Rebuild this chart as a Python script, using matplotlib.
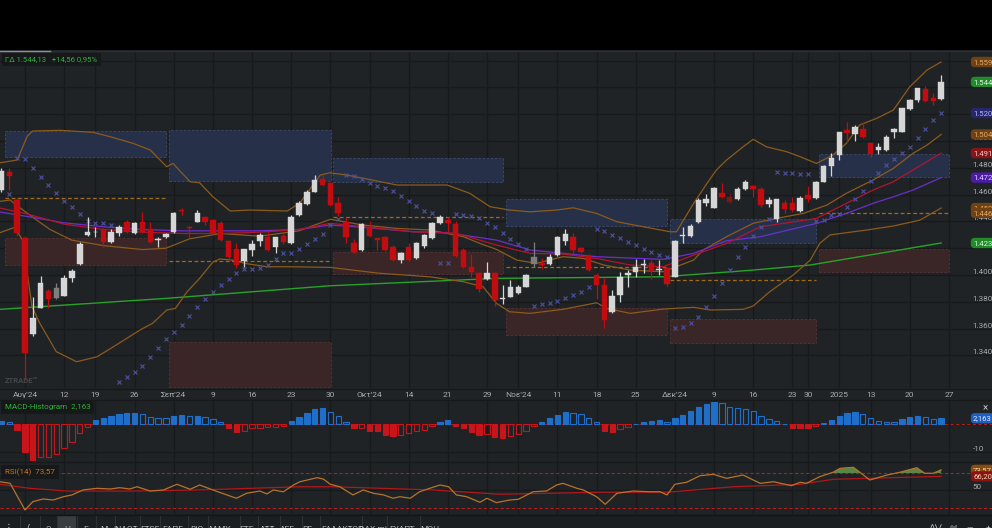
import numpy as np
import matplotlib
matplotlib.use('Agg')
import matplotlib.pyplot as plt
from matplotlib.patches import Rectangle
from matplotlib.ticker import FuncFormatter
from matplotlib.lines import Line2D

plt.rcParams['font.family'] = ['Roboto', 'DejaVu Sans']

# ---- data: trading-day index, 0 = 5 Aug 2024, -3 = 31 Jul, 117 = 24 Jan 2025
first_idx = -3
opens = [1463.4, 1477.1, 1456.0, 1427.6, 1356.0, 1375.6, 1388.1, 1382.6, 1384.3, 1398.0,
         1408.0, 1429.9, 1431.8, 1433.6, 1424.9, 1431.1, 1439.8, 1431.1, 1439.8, 1434.1,
         1426.0, 1428.6, 1432.3, 1448.9, 1436.0, 1439.8, 1443.5, 1441.0, 1439.0, 1425.6,
         1419.2, 1410.7, 1418.7, 1425.6, 1428.6, 1420.7, 1429.3, 1424.1, 1444.8, 1453.0,
         1462.2, 1471.4, 1468.4, 1454.0, 1439.3, 1424.1, 1418.7, 1436.0, 1427.4, 1428.1,
         1420.7, 1411.2, 1421.1, 1412.5, 1421.6, 1427.4, 1438.6, 1441.0, 1438.1, 1418.7,
         1406.2, 1401.3, 1397.0, 1401.3, 1382.1, 1383.8, 1386.8, 1391.3, 1408.2, 1408.7,
         1408.2, 1414.9, 1425.6, 1428.1, 1419.9, 1414.2, 1400.0, 1392.5, 1372.2, 1385.1,
         1400.0, 1402.5, 1407.7, 1408.7, 1404.0, 1405.0, 1398.7, 1429.5, 1429.1, 1439.3,
         1454.0, 1450.2, 1461.4, 1458.0, 1456.5, 1464.2, 1466.4, 1464.0, 1453.0, 1441.6,
         1453.5, 1453.5, 1448.0, 1459.7, 1457.2, 1469.6, 1481.3, 1489.6, 1508.2, 1505.2,
         1509.0, 1498.3, 1493.3, 1493.3, 1506.9, 1506.9, 1523.9, 1530.6, 1538.8, 1532.0,
         1531.1]
highs = [1479.8, 1479.8, 1457.5, 1429.1, 1383.6, 1399.3, 1389.6, 1394.3, 1400.0, 1404.7,
         1424.6, 1443.3, 1435.8, 1435.1, 1434.3, 1437.3, 1441.0, 1439.6, 1447.2, 1439.6,
         1428.6, 1431.3, 1447.0, 1449.8, 1436.6, 1448.5, 1444.0, 1441.8, 1440.3, 1426.1,
         1424.1, 1419.8, 1426.1, 1431.1, 1433.1, 1428.7, 1431.6, 1444.8, 1455.2, 1463.4,
         1474.4, 1474.6, 1469.4, 1458.4, 1443.5, 1426.6, 1438.8, 1440.5, 1428.0, 1429.1,
         1422.4, 1417.2, 1423.7, 1424.6, 1430.6, 1439.6, 1444.8, 1443.5, 1440.5, 1419.9,
         1415.7, 1402.2, 1409.5, 1402.2, 1392.5, 1396.3, 1392.5, 1400.7, 1424.9, 1412.7,
         1415.4, 1429.1, 1434.1, 1431.1, 1421.1, 1415.7, 1401.7, 1397.5, 1388.8, 1402.5,
         1403.7, 1411.9, 1412.2, 1411.2, 1411.2, 1406.2, 1426.1, 1436.0, 1438.1, 1457.2,
         1460.4, 1465.7, 1468.4, 1461.0, 1465.9, 1470.9, 1467.2, 1465.4, 1458.4, 1457.1,
         1456.0, 1458.4, 1459.2, 1466.4, 1470.1, 1482.1, 1490.8, 1507.1, 1514.4, 1511.9,
         1514.4, 1498.9, 1498.3, 1504.5, 1509.5, 1525.0, 1531.3, 1539.9, 1541.0, 1535.6,
         1549.3]
lows = [1461.9, 1463.4, 1429.0, 1321.6, 1354.5, 1375.4, 1375.1, 1382.1, 1384.0, 1395.0,
        1407.5, 1429.1, 1428.4, 1421.1, 1423.9, 1429.3, 1431.3, 1430.6, 1431.3, 1423.9,
        1420.6, 1427.6, 1431.7, 1444.8, 1427.6, 1439.6, 1437.3, 1430.6, 1425.4, 1411.2,
        1405.0, 1406.2, 1414.2, 1421.6, 1417.9, 1416.2, 1423.1, 1423.5, 1444.0, 1452.2,
        1461.6, 1466.4, 1451.5, 1444.0, 1424.1, 1416.2, 1417.9, 1428.4, 1418.7, 1417.9,
        1410.4, 1408.7, 1410.4, 1411.9, 1419.9, 1426.9, 1438.1, 1432.3, 1413.4, 1405.2,
        1398.3, 1387.5, 1396.3, 1377.1, 1378.4, 1383.6, 1385.8, 1391.0, 1405.7, 1404.5,
        1407.5, 1414.2, 1422.4, 1415.7, 1416.2, 1403.0, 1382.1, 1360.2, 1371.6, 1380.1,
        1390.8, 1398.7, 1401.3, 1397.0, 1400.0, 1391.8, 1398.5, 1424.0, 1428.4, 1438.8,
        1451.7, 1450.0, 1457.8, 1454.1, 1456.0, 1463.8, 1458.4, 1450.5, 1451.0, 1439.8,
        1446.0, 1447.2, 1446.8, 1454.7, 1456.7, 1469.4, 1473.9, 1485.8, 1499.5, 1500.0,
        1502.2, 1488.3, 1490.3, 1492.9, 1502.0, 1506.5, 1523.1, 1529.3, 1529.5, 1526.9,
        1530.6]
closes = [1477.8, 1473.9, 1431.3, 1341.8, 1367.9, 1393.8, 1382.1, 1390.5, 1398.0, 1403.0,
          1422.9, 1432.1, 1432.3, 1424.9, 1432.3, 1436.0, 1432.3, 1438.6, 1432.3, 1424.9,
          1426.4, 1430.6, 1446.0, 1447.8, 1435.1, 1446.5, 1439.8, 1431.1, 1426.1, 1413.2,
          1407.5, 1419.2, 1423.1, 1429.9, 1418.7, 1428.1, 1424.9, 1443.5, 1454.0, 1462.2,
          1470.9, 1467.2, 1452.2, 1446.5, 1428.1, 1417.4, 1438.1, 1429.1, 1426.1, 1418.7,
          1411.2, 1416.6, 1411.2, 1423.7, 1429.9, 1438.6, 1443.5, 1438.6, 1414.2, 1406.2,
          1402.5, 1389.3, 1401.3, 1381.3, 1383.1, 1390.8, 1390.8, 1399.8, 1413.2, 1407.5,
          1413.2, 1428.1, 1430.6, 1418.7, 1417.4, 1403.7, 1392.5, 1366.4, 1384.6, 1398.3,
          1401.3, 1406.2, 1408.2, 1403.2, 1404.6, 1393.3, 1425.6, 1429.9, 1436.8, 1456.0,
          1456.5, 1464.7, 1458.4, 1454.7, 1464.0, 1469.2, 1464.0, 1452.2, 1456.0, 1456.5,
          1449.0, 1448.5, 1457.7, 1456.5, 1469.6, 1481.3, 1487.1, 1506.5, 1505.7, 1510.7,
          1502.8, 1490.3, 1495.3, 1502.8, 1508.7, 1524.4, 1530.6, 1539.3, 1530.1, 1529.6,
          1544.13]
gray_candles = [4, 65]
dark_candles = [90]

# parabolic SAR, from index -2
sar_first = -2
sar = [1460.4, 1487.5, 1486.3, 1479.6, 1473.4, 1467.2, 1461.0, 1455.4, 1450.5, 1445.3,
       1440.3, 1438.6, 1438.6, 1437.3, 1320.4, 1324.1, 1327.8, 1332.3, 1339.0, 1345.7,
       1352.0, 1357.5, 1362.7, 1369.6, 1375.9, 1382.1, 1387.5, 1392.5, 1396.8, 1401.3,
       1404.5, 1404.5, 1405.0, 1407.5, 1411.7, 1416.2, 1416.2, 1419.2, 1423.1, 1426.6,
       1430.6, 1437.0, 1442.0, 1474.6, 1473.9, 1471.4, 1468.9, 1466.4, 1465.1, 1462.9,
       1459.2, 1455.4, 1451.7, 1448.0, 1446.0, 1408.7, 1409.2, 1445.5, 1444.8, 1444.0,
       1442.3, 1439.0, 1435.6, 1431.1, 1426.6, 1422.9, 1419.2, 1377.1, 1378.4, 1379.3,
       1380.6, 1382.6, 1385.1, 1387.5, 1391.3, 1434.1, 1433.1, 1429.9, 1427.4, 1424.9,
       1422.4, 1419.4, 1417.4, 1414.9, 1413.2, 1360.2, 1361.4, 1364.4, 1368.4, 1375.9,
       1384.3, 1394.3, 1403.7, 1413.2, 1420.7, 1429.1, 1436.0, 1441.5, 1477.1, 1476.3,
       1475.9, 1475.4, 1475.4, 1440.3, 1441.0, 1444.8, 1445.3, 1451.0, 1456.7, 1462.7,
       1470.4, 1475.9, 1482.1, 1486.6, 1490.8, 1495.7, 1502.0, 1509.0, 1515.7, 1520.9]

# Bollinger bands (sampled along the index axis)
bb_up_x = [-3.2, -1.0, 0.3, 1.0, 4.5, 8.7, 10.9, 13.8, 16.0, 18.1, 18.9, 21.1, 22.3, 24.0,
           26.2, 28.7, 33.5, 35.1, 37.7, 38.9, 41.1, 43.2, 47.5, 53.9, 56.8, 59.4, 61.9,
           64.5, 67.9, 70.0, 73.0, 75.6, 79.0, 82.4, 83.2, 85.4, 87.1, 88.3, 89.6, 91.7,
           93.0, 94.7, 97.3, 99.0, 101.1, 103.2, 104.9, 106.6, 108.8, 110.9, 113.0, 115.2, 117.0]
bb_up = [1483.8, 1485.8, 1503.7, 1507.5, 1508.0, 1506.5, 1503.2, 1498.3, 1493.3, 1480.8,
         1483.3, 1469.6, 1468.9, 1458.4, 1447.8, 1448.5, 1447.8, 1453.7, 1474.6, 1476.3,
         1474.6, 1472.2, 1467.2, 1467.2, 1461.0, 1451.0, 1448.5, 1447.2, 1448.5, 1450.2,
         1446.0, 1439.8, 1436.0, 1432.3, 1432.3, 1453.5, 1468.4, 1478.4, 1485.8, 1495.7,
         1501.3, 1495.7, 1492.0, 1488.3, 1483.3, 1489.6, 1498.3, 1512.0, 1517.0, 1523.1,
         1540.5, 1553.0, 1559.0]
bb_mid_x = [-3.2, -1.9, -0.6, 1.5, 3.2, 6.0, 10.0, 15.0, 18.0, 21.0, 25.0, 30.0, 35.0, 39.0,
            43.2, 47.5, 51.7, 56.0, 58.1, 60.2, 62.8, 65.3, 68.7, 71.3, 73.9, 77.3, 81.5,
            85.4, 86.6, 89.6, 93.0, 96.0, 99.4, 102.4, 104.9, 108.3, 110.9, 113.4, 115.2, 117.0]
bb_mid = [1455.0, 1456.0, 1450.0, 1441.0, 1434.0, 1426.0, 1422.0, 1419.0, 1420.0, 1427.0,
          1431.0, 1429.0, 1433.0, 1441.6, 1437.3, 1434.8, 1433.6, 1428.6, 1423.6, 1419.2,
          1411.2, 1408.7, 1413.7, 1412.4, 1407.5, 1403.7, 1402.5, 1411.2, 1418.7, 1428.6,
          1438.6, 1442.3, 1446.0, 1452.2, 1461.0, 1470.9, 1479.6, 1490.8, 1497.0, 1504.9]
bb_lo_x = [-3.2, -1.3, -0.3, 0.9, 1.9, 4.0, 6.6, 9.2, 11.3, 14.7, 16.3, 18.1, 19.2, 20.7,
           22.3, 24.0, 24.9, 26.6, 28.3, 30.9, 33.8, 39.0, 45.3, 51.7, 56.0, 58.5, 60.2,
           61.9, 64.5, 68.7, 73.0, 74.3, 77.3, 81.5, 85.4, 87.5, 91.7, 93.0, 95.1, 98.1,
           100.3, 101.5, 102.8, 104.9, 107.5, 110.9, 114.3, 117.0]
bb_lo = [1431.6, 1435.6, 1426.0, 1376.3, 1364.0, 1342.8, 1335.3, 1339.0, 1346.5, 1359.0,
         1364.0, 1373.9, 1375.1, 1387.5, 1397.5, 1409.7, 1412.0, 1411.0, 1408.5, 1406.2,
         1406.2, 1405.7, 1401.3, 1398.7, 1395.0, 1391.3, 1378.9, 1372.6, 1371.4, 1374.4,
         1379.3, 1375.1, 1371.4, 1374.6, 1375.9, 1373.9, 1374.4, 1376.9, 1387.5, 1400.0,
         1411.2, 1423.6, 1429.9, 1431.6, 1433.6, 1436.6, 1441.0, 1450.0]

# moving averages
ma_red_x = [-3.2, 0.0, 5.0, 10.0, 15.0, 20.0, 25.0, 30.0, 35.0, 39.0, 43.2, 49.6, 55.1,
            60.2, 64.5, 68.7, 73.0, 77.3, 81.5, 85.4, 89.6, 93.9, 101.1, 104.9, 108.3,
            110.9, 113.4, 117.0]
ma_red = [1450.0, 1446.0, 1438.0, 1434.0, 1432.0, 1431.0, 1431.0, 1432.0, 1434.0, 1438.6,
          1436.1, 1432.3, 1431.1, 1422.4, 1416.2, 1415.7, 1412.4, 1407.5, 1406.2, 1414.9,
          1423.6, 1436.0, 1442.3, 1453.5, 1463.4, 1469.6, 1478.4, 1491.0]
ma_pur_x = [-3.2, 0.0, 5.0, 10.0, 15.0, 20.0, 25.0, 30.0, 35.0, 39.0, 43.2, 49.6, 53.9,
            60.2, 64.5, 68.7, 73.0, 81.5, 85.4, 89.6, 93.9, 101.1, 104.9, 108.3, 110.9,
            113.4, 117.0]
ma_pur = [1447.0, 1444.0, 1439.0, 1436.0, 1434.0, 1433.0, 1433.0, 1433.0, 1434.0, 1437.3,
          1435.6, 1432.3, 1431.6, 1426.1, 1418.7, 1416.2, 1413.7, 1411.7, 1416.2, 1425.6,
          1428.6, 1438.6, 1446.0, 1453.5, 1458.4, 1463.4, 1472.7]
ma_grn_x = [-3.2, 18.1, 39.0, 60.2, 81.5, 92.6, 100.3, 117.0]
ma_grn = [1374.4, 1382.6, 1392.0, 1397.5, 1398.7, 1403.5, 1407.5, 1423.9]

# monthly zones (Aug .. Jan)
month_first = [-2, 19, 40, 62, 83, 102]
month_last = [18, 39, 61, 82, 101, 118]
zone_hi_top = [1507.5, 1508.2, 1487.1, 1456.7, 1441.8, 1490.1]
zone_hi_bot = [1487.8, 1470.1, 1469.6, 1436.8, 1424.1, 1473.4]
zone_lo_top = [1427.4, 1349.8, 1417.4, 1375.1, 1367.2, 1419.2]
zone_lo_bot = [1407.5, 1316.6, 1400.7, 1355.2, 1349.5, 1402.5]
pivot = [1457.2, 1410.4, 1443.5, 1405.7, 1396.0, 1446.4]

# MACD histogram, from index -3
macd = [1.2, 1.0, -2.0, -9.8, -12.7, -11.8, -11.5, -10.6, -8.6, -6.2,
        -3.2, -0.85, 1.5, 2.4, 3.1, 3.8, 4.0, 4.1, 3.6, 2.7,
        2.4, 2.3, 3.0, 3.3, 3.0, 3.1, 2.5, 1.8, 0.7, -1.2,
        -2.6, -2.4, -1.4, -1.3, -1.0, -0.9, -0.6, 1.2, 2.7, 3.9,
        5.4, 5.7, 4.4, 3.0, 0.7, -1.4, -1.3, -2.3, -2.4, -3.7,
        -4.2, -3.9, -3.2, -2.4, -1.9, -0.5, 0.8, 1.6, -0.5, -1.4,
        -2.6, -3.9, -3.6, -4.6, -4.9, -4.2, -3.6, -2.3, -0.6, 0.7,
        2.1, 3.3, 4.5, 4.0, 3.7, 2.4, 0.7, -2.3, -2.6, -1.6,
        -0.8, 0.2, 0.9, 1.2, 1.4, 0.7, 2.3, 3.5, 4.7, 6.2,
        7.1, 7.9, 7.5, 6.2, 6.0, 5.6, 4.8, 3.0, 1.9, 1.2,
        0.2, -1.2, -1.3, -1.35, -0.7, 0.5, 1.7, 3.1, 3.9, 4.3,
        3.6, 2.1, 1.2, 1.0, 0.7, 1.8, 2.5, 3.1, 2.6, 1.9,
        2.163]

# RSI(14) and its average
rsi_x = [-3.2, -1.9, 0.0, 1.0, 2.3, 3.6, 4.9, 6.0, 7.4, 9.2, 10.9, 12.1, 13.4, 14.3, 16.0,
         17.7, 19.4, 21.1, 22.3, 24.0, 27.0, 28.3, 30.0, 30.9, 31.7, 33.0, 34.3, 35.1,
         37.3, 38.1, 39.0, 40.2, 41.9, 43.2, 44.5, 45.8, 47.0, 47.9, 49.2, 50.4, 51.7,
         53.0, 54.1, 55.1, 56.4, 58.1, 59.0, 60.2, 61.9, 63.0, 64.9, 66.6, 67.9, 68.7,
         70.5, 71.3, 73.0, 74.1, 75.6, 77.7, 79.8, 81.1, 82.0, 83.0, 84.5, 86.2, 87.9,
         89.6, 91.7, 93.9, 95.6, 97.9, 99.0, 99.8, 101.5, 103.2, 104.1, 105.8, 107.9,
         110.1, 111.7, 113.9, 114.9, 116.0, 117.0]
rsi = [60.0, 58.2, 27.7, 37.2, 40.3, 39.1, 42.9, 44.9, 50.6, 52.5, 51.7, 53.2, 51.7, 54.3,
       49.4, 50.6, 57.1, 51.4, 56.3, 50.6, 41.1, 46.8, 49.4, 46.0, 50.6, 48.6, 56.3, 60.0,
       64.6, 63.1, 57.1, 54.3, 44.9, 50.6, 46.8, 44.9, 41.1, 42.9, 41.1, 48.6, 52.5, 56.3,
       54.3, 44.9, 42.9, 36.5, 41.1, 36.1, 39.1, 39.9, 48.6, 49.4, 56.3, 58.2, 52.5, 50.6,
       42.9, 34.2, 46.8, 49.4, 48.6, 48.6, 44.9, 57.1, 59.4, 66.9, 68.5, 63.9, 67.7, 58.2,
       60.0, 55.5, 59.4, 58.2, 65.8, 70.8, 75.4, 76.5, 62.0, 67.7, 70.8, 76.1, 69.7, 69.7,
       73.57]
rsi_ma_x = [-3.2, 0.6, 5.3, 13.8, 22.3, 35.1, 39.3, 52.1, 60.7, 73.4, 82.0, 90.5, 99.0,
            103.2, 107.5, 117.0]
rsi_ma = [57.1, 52.5, 49.4, 49.4, 50.6, 54.3, 54.3, 50.6, 45.7, 48.0, 48.0, 54.3, 57.1,
          62.8, 63.9, 66.2]

tick_idx = [0, 5, 9, 14, 19, 24, 29, 34, 39, 44, 49, 54, 59, 63, 68, 73, 78, 83, 88, 93,
            98, 100, 104, 108, 113, 118]
tick_lab = ["Αυγ'24", '12', '19', '26', "Σεπ'24", '9', '16', '23', '30', "Οκτ'24", '14',
            '21', '29', "Νοε'24", '11', '18', '25', "Δεκ'24", '9', '16', '23', '30', '2025',
            '13', '20', '27']
price_ticks = list(range(1340, 1561, 20))
toolbar_items = ['Ω', 'H', 'E', 'M', 'ΙΝΛΟΤ', 'FTSE', 'ΕΛΠΕ', 'ΒΙΟ', 'ΑΛΜΥ', 'ΕΤΕ', 'ΑΤΤ',
                 'ΑΕΓ', 'ΡΕ', 'ΕΛΛΑΚΤΩΡ', 'DAX mi', 'ΕΥΑΠΣ', 'ΜΟΗ']

# ---- styling
BG = '#202325'
GRID = '#17191a'
TXT = '#a9acae'
WHITE = '#d6d6d6'
RED = '#c20c0f'
BROWN = '#8c5a1c'
W, H = 992.0, 528.0


def gr(v, d=1):
    s = f'{v:,.{d}f}'
    return s.replace(',', '#').replace('.', ',').replace('#', '.')


def fy(px):
    return 1 - px / H


fig = plt.figure(figsize=(9.92, 5.28), dpi=100, facecolor=BG)
ax = fig.add_axes([0, fy(388), 1, (388 - 51) / H])
axm = fig.add_axes([0, fy(462), 1, (462 - 400) / H], sharex=ax)
axr = fig.add_axes([0, fy(514), 1, (514 - 462) / H], sharex=ax)
xlim = (-3.19, 123.5)

for a in (ax, axm, axr):
    a.set_facecolor(BG)
    for s in a.spines.values():
        s.set_visible(False)
    a.set_axisbelow(True)
    a.grid(True, color=GRID, lw=0.9)
    a.yaxis.tick_right()
    a.tick_params(axis='y', length=0, pad=-14, labelsize=5.8, labelcolor=TXT)
    a.set_xticks(tick_idx)
ax.set_xlim(*xlim)
ax.set_xticklabels(tick_lab)
ax.tick_params(axis='x', length=0, pad=3, labelsize=6, labelcolor=TXT)
axm.tick_params(axis='x', labelbottom=False, length=0)
axr.tick_params(axis='x', labelbottom=False, length=0)

# ---- price panel
ax.set_ylim(1315.7, 1567.2)
ax.set_yticks(price_ticks)
ax.yaxis.set_major_formatter(FuncFormatter(
    lambda v, p: '' if v >= 1560 else f'{int(v):,}'.replace(',', '.')))
for t in ax.get_yticklabels():
    t.set_va('bottom')

for k in range(len(month_first)):
    x0 = month_first[k] - 0.6
    wdt = month_last[k] + 0.05 - x0
    ax.add_patch(Rectangle((x0, zone_hi_bot[k]), wdt, zone_hi_top[k] - zone_hi_bot[k],
                           facecolor='#263149', edgecolor='#3b4a6c', lw=0.6, ls=(0, (3, 2)), zorder=1))
    ax.add_patch(Rectangle((x0, zone_lo_bot[k]), wdt, zone_lo_top[k] - zone_lo_bot[k],
                           facecolor='#3a2527', edgecolor='#573236', lw=0.6, ls=(0, (3, 2)), zorder=1))
    ax.plot([x0, x0 + wdt], [pivot[k], pivot[k]], color='#a0691c', lw=0.9, ls=(0, (3, 2)), zorder=2)

ax.plot(ma_grn_x, ma_grn, color='#27a329', lw=1.0, zorder=3)
ax.plot(bb_up_x, bb_up, color=BROWN, lw=0.9, zorder=3)
ax.plot(bb_mid_x, bb_mid, color=BROWN, lw=0.9, zorder=3)
ax.plot(bb_lo_x, bb_lo, color=BROWN, lw=0.9, zorder=3)
ax.plot(ma_pur_x, ma_pur, color='#6a2fcc', lw=0.9, zorder=3)
ax.plot(ma_red_x, ma_red, color='#b3142e', lw=0.9, zorder=3)

sar_idx = np.arange(sar_first, sar_first + len(sar))
ax.plot(sar_idx, sar, ls='none', marker='x', ms=3.2, mew=0.8, color='#4d519e', zorder=4)

idx = np.arange(first_idx, first_idx + len(closes))
o, h, l, c = map(np.array, (opens, highs, lows, closes))
cols = np.where(c >= o, WHITE, RED).astype(object)
for g in gray_candles:
    cols[g - first_idx] = '#7e7e7e'
for g in dark_candles:
    cols[g - first_idx] = '#7a1818'
ax.vlines(idx, l, h, colors=list(cols), lw=0.9, zorder=5)
ax.bar(idx, np.maximum(np.abs(c - o), 0.6), bottom=np.minimum(o, c), width=0.7,
       color=list(cols), edgecolor=list(cols), lw=0.3, zorder=6)

# right-hand value badges
badges = [
    (bb_up[-1], gr(bb_up[-1]), '#6e4214', '#e2a866'),
    (closes[-1], gr(closes[-1], 2), '#1f8b29', '#dff5df'),
    (sar[-1], gr(sar[-1]), '#25266b', '#b4b6ff'),
    (bb_mid[-1], gr(bb_mid[-1]), '#6e4214', '#e2a866'),
    (ma_red[-1], gr(ma_red[-1]), '#861518', '#f2c4c4'),
    (ma_pur[-1], gr(ma_pur[-1]), '#4c1ca6', '#ddd0ff'),
    (bb_lo[-1], gr(bb_lo[-1]), '#6e4214', '#e2a866'),
    (pivot[-1], gr(pivot[-1]), '#6e4214', '#e2a866'),
    (ma_grn[-1], gr(ma_grn[-1]), '#1f8b29', '#dff5df'),
]
btr = ax.get_yaxis_transform()
for v, s, bgc, fc in badges:
    ax.text(973 / W, v, s, transform=btr, fontsize=5.6, color=fc, va='center', ha='left',
            zorder=20, clip_on=False,
            bbox=dict(boxstyle='round,pad=0.28,rounding_size=0.5', fc=bgc, ec='none'))

ax.text(5 / W, 0.012, 'ZTRADE™', transform=ax.transAxes, fontsize=5.5, color='#45484b',
        fontweight='bold', va='bottom')

# ---- MACD panel
axm.set_ylim(-13.46, 8.68)
axm.set_yticks([-10, 0])
axm.set_yticklabels(['-10', '0'])
for t in axm.get_yticklabels():
    t.set_va('bottom')
mv = np.array(macd)
midx = np.arange(first_idx, first_idx + len(macd))
prev = np.concatenate([[0.0], mv[:-1]])
for xi, v, pv in zip(midx, mv, prev):
    col = '#1f6fc9' if v >= 0 else '#c8151b'
    filled = abs(v) > abs(pv) and np.sign(v) == np.sign(pv) or np.sign(v) != np.sign(pv)
    axm.bar(xi, v, width=0.68, color=col if filled else 'none', edgecolor=col, lw=0.8, zorder=3)
axm.axhline(0, color='#b01d1d', lw=0.8, ls=(0, (3, 2)), zorder=2)
axm.text(973 / W, macd[-1], gr(macd[-1], 3), transform=axm.get_yaxis_transform(),
         fontsize=5.6, color='#dfe9ff', va='center', zorder=20, clip_on=False,
         bbox=dict(boxstyle='round,pad=0.28,rounding_size=0.5', fc='#1d5fc0', ec='none'))

# ---- RSI panel
axr.set_ylim(23.1, 82.6)
axr.set_yticks([50])
for t in axr.get_yticklabels():
    t.set_va('bottom')
axr.axhline(70, color='#b01d1d', lw=0.8, ls=(0, (3, 2)), zorder=2)
axr.axhline(30, color='#b01d1d', lw=0.8, ls=(0, (3, 2)), zorder=2)
rv = np.array(rsi)
axr.fill_between(rsi_x, rv, 70, where=rv > 70, interpolate=True, color='#5a8748', lw=0, zorder=3)
axr.fill_between(rsi_x, rv, 30, where=rv < 30, interpolate=True, color='#5a8748', lw=0, zorder=3)
axr.plot(rsi_ma_x, rsi_ma, color='#b0181a', lw=0.9, zorder=4)
axr.plot(rsi_x, rsi, color='#b7732b', lw=0.9, zorder=5)
for v, bgc in ((rsi[-1], '#8a4a10'), (rsi_ma[-1], '#8c1212')):
    axr.text(973 / W, v, gr(v, 2), transform=axr.get_yaxis_transform(), fontsize=5.6,
             color='#f1d2b8', va='center', zorder=20, clip_on=False,
             bbox=dict(boxstyle='round,pad=0.28,rounding_size=0.5', fc=bgc, ec='none'))

# ---- frame pieces: black header strip, separators, labels, toolbar
fig.patches.append(Rectangle((0, fy(50)), 1, 50 / H, transform=fig.transFigure,
                             facecolor='black', edgecolor='none', zorder=0))
for ypx, col in ((50.5, '#2b2e31'), (388.5, '#161819'), (400, '#161819'),
                 (462, '#161819'), (514.5, '#131516')):
    fig.lines.append(Line2D([0, 1], [fy(ypx), fy(ypx)], transform=fig.transFigure,
                            color=col, lw=1.0))
fig.lines.append(Line2D([0, 50 / W], [fy(50.5), fy(50.5)], transform=fig.transFigure,
                        color='#8d9093', lw=1.0))

box = dict(boxstyle='square,pad=0.45', fc='#16181a', ec='none')
fig.text(5 / W, fy(59.5), 'ΓΔ 1.544,13   +14,56 0,95%', fontsize=5.6, color='#2fb23a',
         va='center', bbox=box)
fig.text(5 / W, fy(407.5), 'MACD-Histogram  ' + gr(macd[-1], 3), fontsize=5.8,
         color='#2fb23a', va='center', bbox=box)
fig.text(5 / W, fy(472), 'RSI(14)  ' + gr(rsi[-1], 2), fontsize=5.8, color='#c8761e',
         va='center', bbox=box)
fig.text(985 / W, fy(408), '×', fontsize=7, color='#c8c8c8', ha='center', va='center')

# toolbar
fig.patches.append(Rectangle((0, 0), 1, 14 / H, transform=fig.transFigure,
                             facecolor='#1c1f21', edgecolor='none', zorder=0))
fig.patches.append(Rectangle((58 / W, 0), 18 / W, 13 / H, transform=fig.transFigure,
                             facecolor='#3a3d40', edgecolor='none', zorder=1))
tb_x = [48, 67, 86, 104, 126, 150, 173, 197, 220, 247, 268, 287, 307, 342, 373, 402, 430]
for xp, s in zip(tb_x, toolbar_items):
    fig.text(xp / W, fy(531), s, fontsize=6, color='#b8bbbe', ha='center', va='baseline')
for xp in (20, 40, 57, 77, 96, 115, 140, 160, 188, 208, 240, 258, 280, 302, 320, 362, 387, 420):
    fig.lines.append(Line2D([xp / W, xp / W], [0, 12 / H], transform=fig.transFigure,
                            color='#2e3134', lw=0.8))
fig.text(9 / W, fy(531), '⋮', fontsize=7, color='#c8c8c8', ha='center', va='baseline')
fig.text(28 / W, fy(531), '/', fontsize=7, color='#c8c8c8', ha='center', va='baseline')
for xp, s in ((935, '⋀⋁'), (953, 'ılıl'), (970, '—'), (988, '+')):
    fig.text(xp / W, fy(530), s, fontsize=6, color='#c8c8c8', ha='center', va='baseline')

fig.savefig('out.png', dpi=100, facecolor=fig.get_facecolor())
